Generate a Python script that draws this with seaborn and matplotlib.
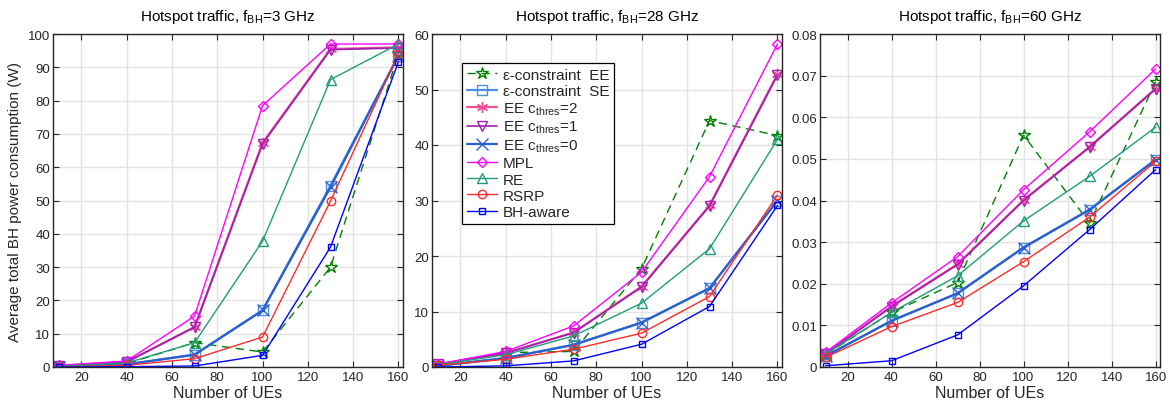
import numpy as np
import pandas as pd
import matplotlib
matplotlib.use("Agg")
import matplotlib.pyplot as plt
import seaborn as sns
from matplotlib.ticker import FuncFormatter, MultipleLocator

# ---------------- data ----------------
ues = [10, 40, 70, 100, 130, 160]

series_names = ["ε-constraint  EE", "ε-constraint  SE", r"EE c$_{\mathrm{thres}}$=2",
                r"EE c$_{\mathrm{thres}}$=1", r"EE c$_{\mathrm{thres}}$=0",
                "MPL", "RE", "RSRP", "BH-aware"]

# 3 GHz
eps_ee_3 = [0.2, 1.0, 7.3, 4.5, 30.0, 94.0]
eps_se_3 = [0.0, 0.8, 3.7, 17.0, 54.5, 93.5]
ee2_3 = [0.3, 1.5, 12.0, 67.3, 95.5, 96.0]
ee1_3 = [0.3, 1.5, 12.0, 67.0, 95.3, 95.8]
ee0_3 = [0.0, 0.8, 3.7, 17.0, 54.0, 93.5]
mpl_3 = [0.5, 1.8, 15.3, 78.5, 97.0, 97.0]
re_3 = [0.2, 1.2, 7.3, 37.8, 86.3, 97.0]
rsrp_3 = [0.0, 0.5, 2.5, 9.0, 49.8, 94.0]
bh_3 = [0.0, 0.1, 0.3, 3.5, 36.0, 91.7]

# 28 GHz
eps_ee_28 = [0.3, 2.6, 2.8, 17.7, 44.4, 41.7]
eps_se_28 = [0.2, 1.6, 4.0, 8.0, 14.2, 30.0]
ee2_28 = [0.5, 2.5, 6.2, 14.5, 29.1, 52.8]
ee1_28 = [0.5, 2.5, 6.2, 14.4, 29.0, 52.6]
ee0_28 = [0.2, 1.6, 4.0, 8.0, 14.2, 30.0]
mpl_28 = [0.5, 2.8, 7.4, 17.1, 34.3, 58.2]
re_28 = [0.4, 2.2, 5.6, 11.5, 21.3, 41.0]
rsrp_28 = [0.3, 1.4, 3.2, 6.1, 12.7, 31.0]
bh_28 = [0.0, 0.2, 1.1, 4.1, 10.9, 29.1]

# 60 GHz
eps_ee_60 = [0.0030, 0.0131, 0.0203, 0.0557, 0.0346, 0.0685]
eps_se_60 = [0.0026, 0.0111, 0.0177, 0.0287, 0.0378, 0.0498]
ee2_60 = [0.0031, 0.0146, 0.0247, 0.0401, 0.0529, 0.0669]
ee1_60 = [0.0031, 0.0145, 0.0246, 0.0400, 0.0528, 0.0668]
ee0_60 = [0.0026, 0.0111, 0.0177, 0.0287, 0.0378, 0.0498]
mpl_60 = [0.0035, 0.0154, 0.0265, 0.0426, 0.0565, 0.0716]
re_60 = [0.0031, 0.0131, 0.0219, 0.0351, 0.0458, 0.0576]
rsrp_60 = [0.0023, 0.0097, 0.0155, 0.0253, 0.0360, 0.0494]
bh_60 = [0.0003, 0.0015, 0.0077, 0.0195, 0.0330, 0.0474]

panel_titles = [r"Hotspot traffic, f$_{\mathrm{BH}}$=3 GHz",
                r"Hotspot traffic, f$_{\mathrm{BH}}$=28 GHz",
                r"Hotspot traffic, f$_{\mathrm{BH}}$=60 GHz"]
panel_data = [
    [eps_ee_3, eps_se_3, ee2_3, ee1_3, ee0_3, mpl_3, re_3, rsrp_3, bh_3],
    [eps_ee_28, eps_se_28, ee2_28, ee1_28, ee0_28, mpl_28, re_28, rsrp_28, bh_28],
    [eps_ee_60, eps_se_60, ee2_60, ee1_60, ee0_60, mpl_60, re_60, rsrp_60, bh_60],
]
ylims = [(0, 100), (0, 60), (0, 0.08)]
ysteps = [10, 10, 0.01]

# ---------------- style ----------------
sns.set_theme(style="whitegrid")
plt.rcParams["font.family"] = ["Liberation Sans", "DejaVu Sans"]
plt.rcParams["mathtext.fontset"] = "custom"
plt.rcParams["mathtext.rm"] = "Liberation Sans"
plt.rcParams["mathtext.it"] = "Liberation Sans:italic"

styles = [
    dict(color="#008000", marker="*", linestyle=(0, (6, 4)), ms=9, lw=1.0),
    dict(color="#4a90e2", marker="s", linestyle="-", ms=7, lw=1.6),
    dict(color="#f0509a", marker=(6, 2, 0), linestyle="-", ms=8, lw=1.6),
    dict(color="#a020b0", marker="v", linestyle="-", ms=7, lw=1.2),
    dict(color="#2a5fd0", marker="x", linestyle="-", ms=9, lw=1.6),
    dict(color="#ff00ff", marker="D", linestyle="-", ms=5.5, lw=1.0),
    dict(color="#1f9e78", marker="^", linestyle="-", ms=7, lw=1.0),
    dict(color="#ff2a2a", marker="o", linestyle="-", ms=6, lw=1.0),
    dict(color="#0000ff", marker="s", linestyle="-", ms=5, lw=1.0),
]

fig = plt.figure(figsize=(11.7, 4.02), dpi=100)
W, H = 1170.0, 402.0
lefts = [53, 432, 820]
rights = [403, 782, 1160]
top_px, bot_px = 35, 368
axes = []
for i in range(3):
    ax = fig.add_axes([lefts[i] / W, (H - bot_px) / H,
                       (rights[i] - lefts[i]) / W, (bot_px - top_px) / H])
    axes.append(ax)

for i, ax in enumerate(axes):
    for name, vals, st in zip(series_names, panel_data[i], styles):
        df = pd.DataFrame({"UEs": ues, "P": vals})
        sns.lineplot(data=df, x="UEs", y="P", ax=ax, label=name,
                     color=st["color"], marker=st["marker"], linestyle=st["linestyle"],
                     markersize=st["ms"], linewidth=st["lw"],
                     markerfacecolor="none", markeredgecolor=st["color"],
                     markeredgewidth=1.0, legend=False)
    ax.set_xlim(7.5, 162)
    ax.set_ylim(*ylims[i])
    ax.xaxis.set_major_locator(MultipleLocator(20))
    ax.yaxis.set_major_locator(MultipleLocator(ysteps[i]))
    ax.yaxis.set_major_formatter(FuncFormatter(lambda v, p: "0" if abs(v) < 1e-12 else f"{v:g}"))
    ax.xaxis.set_major_formatter(FuncFormatter(lambda v, p: "" if v < 15 else f"{v:g}"))
    ax.grid(True, color="#e3e3e3", linewidth=1.0)
    ax.set_facecolor("white")
    for s in ax.spines.values():
        s.set_visible(True)
        s.set_color("#262626")
        s.set_linewidth(1.0)
    ax.tick_params(direction="in", length=4, width=0.8, colors="#262626",
                   labelsize=9.5, top=True, right=True, bottom=True, left=True,
                   pad=3)
    ax.tick_params(axis="y", pad=2)
    ax.set_title(panel_titles[i], fontsize=11, pad=10, color="black")
    ax.set_xlabel("Number of UEs", fontsize=11.5, labelpad=1, color="#262626")
    ax.set_ylabel("")

axes[0].set_ylabel("Average total BH power consumption (W)", fontsize=11, color="#262626", labelpad=4)

handles, labels = axes[1].get_legend_handles_labels()
leg = axes[1].legend(handles, labels, loc="upper left",
                     bbox_to_anchor=((462 - 432) / 350.0, (368 - 64) / 333.0),
                     fontsize=11, frameon=True, fancybox=False, edgecolor="black",
                     framealpha=1.0, borderpad=0.3, labelspacing=0.15,
                     handlelength=2.0, handletextpad=0.4, borderaxespad=0.0)
leg.get_frame().set_linewidth(0.9)

fig.savefig("out.png", dpi=100)
